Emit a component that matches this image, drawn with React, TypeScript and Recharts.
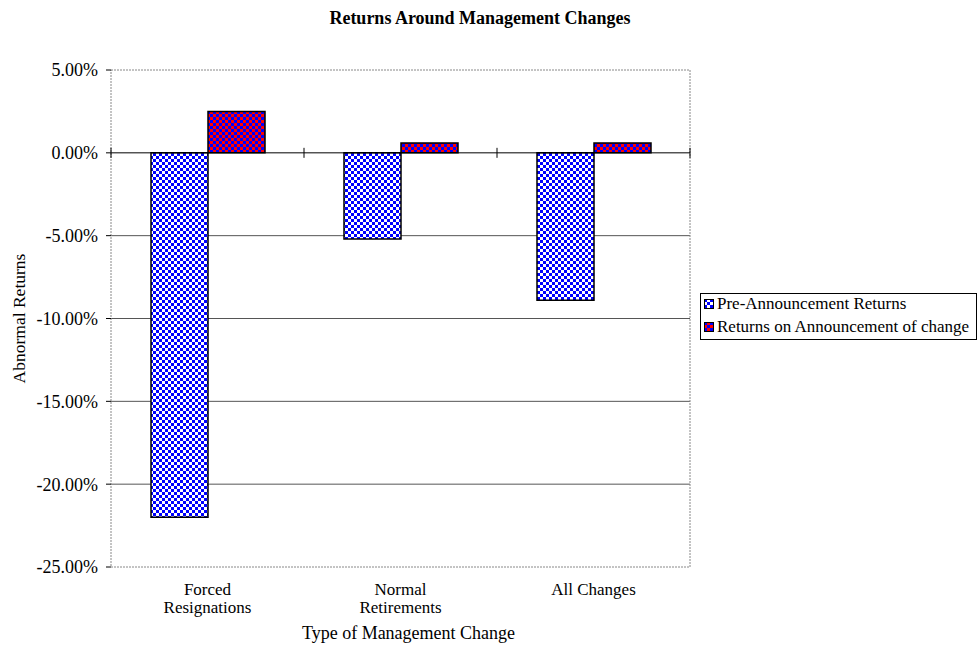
import React from "react";
import {
  BarChart,
  Bar,
  XAxis,
  YAxis,
  CartesianGrid,
  ReferenceArea,
  ReferenceLine,
} from "recharts";

const categories = ["Forced Resignations", "Normal Retirements", "All Changes"];
const categoryLines = [["Forced", "Resignations"], ["Normal", "Retirements"], ["All Changes"]];
const preAnnouncement = [-22.0, -5.2, -8.9];
const onAnnouncement = [2.5, 0.6, 0.6];
const yTicks = [-25, -20, -15, -10, -5, 0, 5];
const gridValues = [-20, -15, -10, -5];

const data = categories.map((name, i) => ({
  name,
  pre: preAnnouncement[i],
  ann: onAnnouncement[i],
}));

const FONT = "'Liberation Serif', 'Times New Roman', serif";

const CategoryTick = (props: any) => {
  const { x, y, index } = props;
  const lines = categoryLines[index] || [];
  return (
    <text x={x} y={y} textAnchor="middle" fontFamily={FONT} fontSize={17} fill="#000">
      {lines.map((l, i) => (
        <tspan key={i} x={x} dy={i === 0 ? 20 : 18}>
          {l}
        </tspan>
      ))}
    </text>
  );
};

// zero line with tick marks on category boundaries
const ZeroLine = (props: any) => {
  const { x1, x2, y1 } = props;
  const w = x2 - x1;
  const marks = [0, 1, 2, 3].map((i) => x1 + (w * i) / 3);
  return (
    <g>
      <line x1={x1} x2={x2} y1={y1} y2={y1} stroke="#000" strokeWidth={1} />
      {marks.map((m, i) => (
        <line key={i} x1={m} x2={m} y1={y1 - 5} y2={y1 + 5} stroke="#000" />
      ))}
    </g>
  );
};

const LegendBox = () => (
  <div
    style={{
      position: "absolute",
      left: 700,
      top: 293,
      width: 277,
      height: 47,
      boxSizing: "border-box",
      border: "1px solid #000",
      background: "#fff",
      padding: "0 0 0 3px",
      fontFamily: FONT,
      fontSize: 17,
      lineHeight: "23px",
      whiteSpace: "nowrap",
    }}
  >
    <div style={{ position: "relative", top: -2 }}>
      {[
        ["url(#checkBlue)", "Pre-Announcement Returns"],
        ["url(#checkRed)", "Returns on Announcement of change"],
      ].map(([fill, label]) => (
        <div key={label} style={{ display: "flex", alignItems: "center" }}>
          <svg width={10} height={10} style={{ marginRight: 3 }}>
            <rect x={0.5} y={0.5} width={9} height={9} fill={fill} stroke="#000" />
          </svg>
          {label}
        </div>
      ))}
    </div>
  </div>
);

export default function App() {
  return (
    <div style={{ position: "absolute", left: 0, top: 0, width: 978, height: 647, background: "#fff" }}>
      <div
        style={{
          position: "absolute",
          top: 8,
          left: 0,
          width: 960,
          textAlign: "center",
          fontFamily: FONT,
          fontWeight: "bold",
          fontSize: 18,
        }}
      >
        Returns Around Management Changes
      </div>
      <BarChart
        width={978}
        height={647}
        data={data}
        margin={{ top: 70, right: 288, left: 11, bottom: 0 }}
        barCategoryGap={40}
        barGap={0}
      >
        <defs>
          <pattern id="checkBlue" width={6} height={6} patternUnits="userSpaceOnUse">
            <rect width={6} height={6} fill="#fff" />
            <rect x={0} y={0} width={3} height={3} fill="#0000ff" />
            <rect x={3} y={3} width={3} height={3} fill="#0000ff" />
          </pattern>
          <pattern id="checkRed" width={6} height={6} patternUnits="userSpaceOnUse">
            <rect width={6} height={6} fill="#ff0000" />
            <rect x={0} y={0} width={3} height={3} fill="#0000ff" />
            <rect x={3} y={3} width={3} height={3} fill="#0000ff" />
          </pattern>
        </defs>
        <CartesianGrid vertical={false} horizontalValues={gridValues} stroke="#555" />
        <ReferenceArea
          y1={-25}
          y2={5}
          fill="none"
          stroke="#888"
          strokeDasharray="2 1"
          ifOverflow="visible"
        />
        <XAxis
          dataKey="name"
          axisLine={false}
          tickLine={false}
          height={80}
          tick={<CategoryTick />}
          label={{
            value: "Type of Management Change",
            position: "insideBottom",
            offset: 8,
            dx: 8,
            style: { fontFamily: FONT, fontSize: 18, fill: "#000" },
          }}
        />
        <YAxis
          width={100}
          domain={[-25, 5]}
          ticks={yTicks}
          interval={0}
          axisLine={false}
          tickSize={5}
          tickMargin={8}
          tickLine={{ stroke: "#000" }}
          tickFormatter={(v: number) => `${v.toFixed(2)}%`}
          tick={{ fontFamily: FONT, fontSize: 18, fill: "#000" }}
          label={{
            value: "Abnormal Returns",
            angle: -90,
            position: "insideLeft",
            offset: 8,
            style: { fontFamily: FONT, fontSize: 17.5, fill: "#000", textAnchor: "middle" },
          }}
        />
        <Bar
          dataKey="pre"
          name="Pre-Announcement Returns"
          fill="url(#checkBlue)"
          stroke="#000"
          strokeWidth={1.5}
          isAnimationActive={false}
        />
        <Bar
          dataKey="ann"
          name="Returns on Announcement of change"
          fill="url(#checkRed)"
          stroke="#000"
          strokeWidth={1.5}
          isAnimationActive={false}
        />
        <ReferenceLine y={0} ifOverflow="visible" shape={<ZeroLine />} />
      </BarChart>
      <LegendBox />
    </div>
  );
}
